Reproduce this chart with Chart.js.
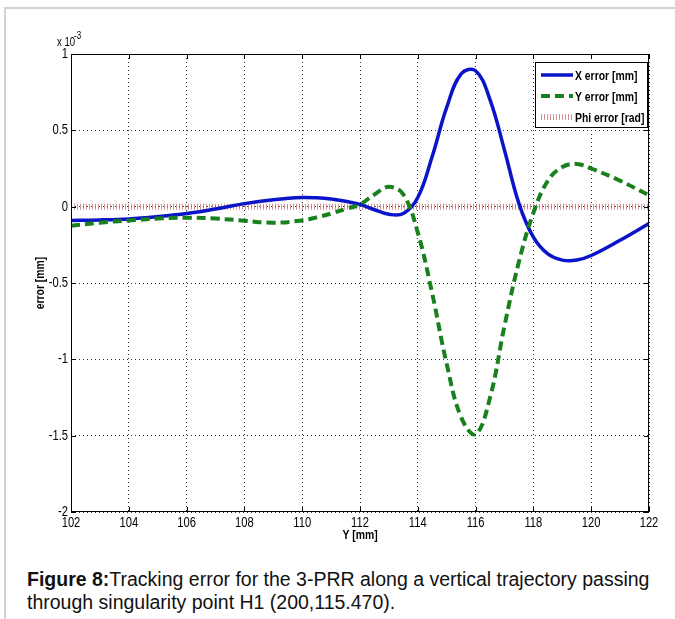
<!DOCTYPE html>
<html>
<head>
<meta charset="utf-8">
<script src="https://cdn.jsdelivr.net/npm/chart.js@4"></script>
<style>
  body { margin: 0; background: #fff; }
  #frame { position: absolute; left: 4px; top: 7px; width: 700px; height: 640px;
           border-left: 2px solid #d2d2d2; border-top: 2px solid #d2d2d2; }
  #wrap { position: absolute; left: 0; top: 0; width: 675px; height: 560px; }
  #caption { position: absolute; left: 27px; top: 568px; width: 645px;
             font-family: "Liberation Sans", Arial, sans-serif; font-size: 19.5px;
             line-height: 23px; color: #111; }
</style>
</head>
<body>
<div id="frame"></div>
<div id="wrap"><canvas id="errchart" width="675" height="560"></canvas></div>
<div id="caption"><b>Figure 8:</b>Tracking error for the 3-PRR along a vertical trajectory passing through singularity point H1 (200,115.470).</div>
<script>
// sample positions along Y [mm]
const yPos = [102, 103, 104, 105, 106, 107, 108, 109, 110, 110.5, 111, 111.5, 112, 112.5, 113,
  113.5, 114, 114.5, 115, 115.5, 116, 116.5, 117, 117.5, 118, 118.5, 119, 119.5, 120, 121, 122];

// errors in units of 1e-3
const xErr = [-0.09, -0.087, -0.08, -0.065, -0.045, -0.015, 0.02, 0.045, 0.06, 0.058, 0.05, 0.035, 0.015, -0.02, -0.05,
  -0.045, 0.06, 0.33, 0.65, 0.87, 0.89, 0.7, 0.37, 0.02, -0.2, -0.31, -0.35, -0.35, -0.32, -0.22, -0.11];
const yErr = [-0.125, -0.105, -0.09, -0.078, -0.072, -0.078, -0.092, -0.105, -0.09, -0.07, -0.045, -0.015, 0.015, 0.08, 0.13,
  0.08, -0.17, -0.57, -1.03, -1.38, -1.49, -1.25, -0.78, -0.36, -0.04, 0.17, 0.26, 0.28, 0.25, 0.17, 0.075];
const phiErr = yPos.map(() => 0);

const xTicks = [102, 104, 106, 108, 110, 112, 114, 116, 118, 120, 122];
const yTicks = [1, 0.5, 0, -0.5, -1, -1.5, -2];

const sans = "'Liberation Sans', Arial, sans-serif";

function pts(vals) {
  return yPos.map((p, i) => ({ x: p, y: vals[i] }));
}

// squeezed text, like the matlab figure font
function narrowText(ctx, txt, x, y, align) {
  const k = 0.8;
  const w = ctx.measureText(txt).width * k;
  let x0 = x;
  if (align === 'center') x0 = x - w / 2;
  else if (align === 'right') x0 = x - w;
  ctx.save();
  ctx.translate(x0, y);
  ctx.scale(k, 1);
  ctx.textAlign = 'left';
  ctx.fillText(txt, 0, 0);
  ctx.restore();
}

// box, inner ticks, tick labels, exponent, axis titles, legend
const decor = {
  id: 'decor',
  afterDraw(chart) {
    const ctx = chart.ctx;
    const a = chart.chartArea;
    const sx = chart.scales.x, sy = chart.scales.y;
    ctx.save();
    ctx.strokeStyle = '#000';
    ctx.lineWidth = 1;
    ctx.setLineDash([]);
    ctx.strokeRect(a.left + 0.5, a.top + 0.5, a.right - a.left - 1, a.bottom - a.top - 1);
    ctx.beginPath();
    xTicks.forEach(t => {
      const px = Math.round(sx.getPixelForValue(t)) + 0.5;
      ctx.moveTo(px, a.bottom); ctx.lineTo(px, a.bottom - 5);
      ctx.moveTo(px, a.top); ctx.lineTo(px, a.top + 5);
    });
    yTicks.forEach(t => {
      const py = Math.round(sy.getPixelForValue(t)) + 0.5;
      ctx.moveTo(a.left, py); ctx.lineTo(a.left + 5, py);
      ctx.moveTo(a.right, py); ctx.lineTo(a.right - 5, py);
    });
    ctx.stroke();

    ctx.fillStyle = '#000';
    ctx.textBaseline = 'middle';
    ctx.font = '14px ' + sans;
    xTicks.forEach(t => narrowText(ctx, String(t), sx.getPixelForValue(t), a.bottom + 11, 'center'));
    yTicks.forEach(t => narrowText(ctx, String(t), a.left - 3, sy.getPixelForValue(t), 'right'));

    ctx.textBaseline = 'middle';
    ctx.font = '12px ' + sans;
    narrowText(ctx, 'x 10', 57, 43, 'left');
    ctx.font = '10px ' + sans;
    narrowText(ctx, '-3', 74, 36, 'left');

    ctx.font = 'bold 13px ' + sans;
    narrowText(ctx, 'Y [mm]', (a.left + a.right) / 2, 535, 'center');
    ctx.save();
    ctx.translate(40, (a.top + a.bottom) / 2);
    ctx.rotate(-Math.PI / 2);
    narrowText(ctx, 'error [mm]', 0, 0, 'center');
    ctx.restore();

    // legend
    const lx = 535, ly = 62, lw = 112, lh = 65;
    ctx.fillStyle = '#fff';
    ctx.fillRect(lx, ly, lw, lh);
    ctx.strokeStyle = '#000';
    ctx.lineWidth = 1;
    ctx.strokeRect(lx + 0.5, ly + 0.5, lw, lh);
    chart.data.datasets.forEach((ds, i) => {
      const ry = ly + 13 + i * 21;
      ctx.beginPath();
      ctx.strokeStyle = ds.borderColor;
      ctx.lineWidth = ds.borderWidth;
      ctx.setLineDash(ds.borderDash || []);
      ctx.moveTo(541, ry); ctx.lineTo(573, ry);
      ctx.stroke();
      ctx.setLineDash([]);
      ctx.fillStyle = '#000';
      ctx.font = 'bold 13px ' + sans;
      narrowText(ctx, ds.label, 575, ry + 1, 'left');
    });
    ctx.restore();
  }
};

new Chart(document.getElementById('errchart'), {
  type: 'line',
  data: {
    datasets: [
      { label: 'X error [mm]', data: pts(xErr), borderColor: '#0a14c8', borderWidth: 3.5,
        tension: 0.4, pointRadius: 0, order: 2 },
      { label: 'Y error [mm]', data: pts(yErr), borderColor: '#18801c', borderWidth: 4,
        borderDash: [9, 5], tension: 0.4, pointRadius: 0, order: 1 },
      { label: 'Phi error [rad]', data: pts(phiErr), borderColor: 'rgba(190,110,110,0.75)', borderWidth: 6,
        borderDash: [1, 2], pointRadius: 0, order: 3 }
    ]
  },
  options: {
    responsive: false,
    animation: false,
    layout: { padding: { left: 0, top: 54, right: 26, bottom: 0 } },
    plugins: { legend: { display: false }, tooltip: { enabled: false } },
    scales: {
      x: {
        type: 'linear', min: 102, max: 122,
        afterFit(s) { s.height = 48; },
        afterBuildTicks(s) { s.ticks = xTicks.map(v => ({ value: v })); },
        grid: { color: '#333', drawTicks: false },
        border: { display: false, dash: [1, 3] },
        ticks: { display: false }
      },
      y: {
        min: -2, max: 1,
        afterFit(s) { s.width = 71; },
        afterBuildTicks(s) { s.ticks = yTicks.map(v => ({ value: v })); },
        grid: { color: '#333', drawTicks: false },
        border: { display: false, dash: [1, 3] },
        ticks: { display: false }
      }
    }
  },
  plugins: [decor]
});
</script>
</body>
</html>
